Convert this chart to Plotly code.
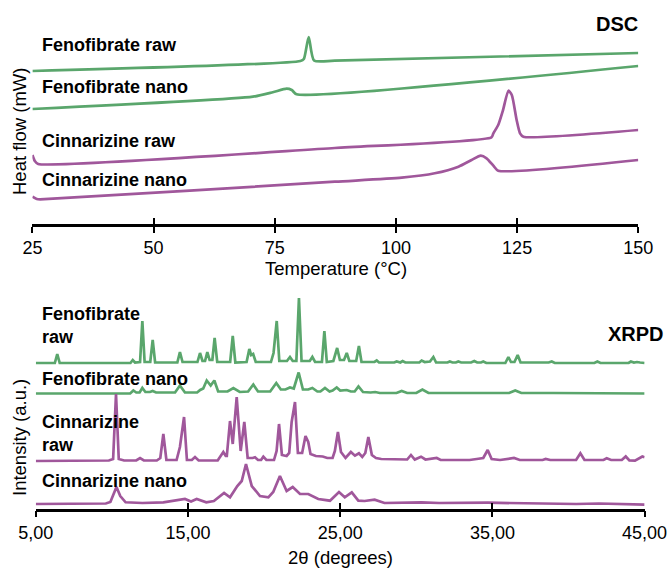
import plotly.graph_objects as go

GREEN = "#5aa66c"
PURPLE = "#a0579b"
FONT = "Liberation Sans, Arial, sans-serif"

# ---------------- DSC data (temperature °C, heat flow a.u., stacked) ----------------
dsc_feno_raw_T = [25.0, 80.3, 81.0, 82.0, 83.1, 87.4, 150.0]
dsc_feno_raw_hf = [153.0, 163.0, 165.0, 187.0, 163.5, 163.3, 171.0]

dsc_feno_nano_T = [25.0, 70.5, 74.6, 77.45, 78.5, 79.5, 150.0]
dsc_feno_nano_hf = [115.0, 127.3, 131.7, 135.3, 134.0, 129.7, 158.0]

dsc_cinn_raw_T = [25.0, 25.5, 26.2, 87.4, 119.7, 120.1, 121.1, 122.1, 123.2, 123.9, 124.9, 125.6, 126.3, 150.0]
dsc_cinn_raw_hf = [69.0, 63.0, 60.0, 76.0, 86.7, 90.7, 99.0, 114.0, 133.3, 129.0, 104.0, 90.7, 87.3, 94.0]

dsc_cinn_nano_T = [25.0, 25.9, 26.6, 87.4, 101.2, 108.0, 112.9, 115.6, 117.5, 118.7, 120.1, 121.1, 150.0]
dsc_cinn_nano_hf = [27.3, 25.0, 24.7, 42.3, 46.3, 50.7, 57.3, 64.0, 68.3, 65.7, 58.3, 53.3, 64.0]

dsc_ticks = [25, 50, 75, 100, 125, 150]

# ---------------- XRPD data (2θ degrees, intensity a.u.) ----------------
xrpd_feno_raw_2t = [5.0, 6.25, 6.41, 6.57, 11.22, 11.37, 11.52, 11.85, 12.0, 12.15, 12.52, 12.68, 12.84,
                    14.3, 14.47, 14.64, 15.62, 15.79, 15.95, 16.12, 16.27, 16.42, 16.6, 16.75, 16.92,
                    17.77, 17.94, 18.11, 18.85, 19.03, 19.15, 19.28, 19.45, 20.45, 20.62, 20.83, 21.0,
                    21.5, 21.7, 21.88, 22.12, 22.29, 22.46, 23.0, 23.17, 23.35, 23.8, 23.96, 24.12,
                    24.55, 24.8, 24.98, 25.25, 25.43, 25.6, 26.05, 26.23, 26.4, 27.25, 27.4, 27.55,
                    28.55, 28.71, 28.88, 28.95, 29.1, 29.28, 30.2, 30.35, 30.55, 30.9, 31.12, 31.3,
                    32.05, 32.2, 32.38, 32.6, 32.76, 32.95, 33.6, 33.81, 34.0, 34.25, 34.4, 34.6,
                    35.85, 36.05, 36.22, 36.45, 36.66, 36.85, 38.7, 38.9, 39.1, 41.7, 41.9, 42.1,
                    43.95, 44.1, 44.3, 44.5, 44.7, 45.0]
xrpd_feno_raw_int = [0, 0, 9, 0, 0, 3, 0.5, 1, 42, 1, 1, 23, 0.5,
                     0.5, 11, 1, 1, 10, 2, 2, 11, 3, 3, 25, 1,
                     1, 27, 0.5, 1, 14, 8, 9, 1, 1, 10, 42, 2,
                     2, 6, 2, 2, 65, 2, 2, 6, 1, 1, 32, 1,
                     2, 15, 3, 3, 10, 2, 2, 17, 1, 1, 2.5, 0.5,
                     0.5, 1.5, 0.5, 0.5, 2, 0.5, 0.5, 2.5, 1, 1.5, 6, 0.5,
                     0.5, 1.5, 0.5, 0.5, 1.5, 0.5, 0.5, 2, 0.5, 0.5, 1.5, 0,
                     0, 6, 1, 1, 8, 0.5, 0.5, 1.5, 0, 0, 1.5, 0,
                     0, 1.5, 0.5, 1, 0.5, 0]

xrpd_feno_nano_2t = [5.0, 11.2, 11.41, 11.6, 11.82, 12.0, 12.2, 12.5, 12.68, 12.9, 14.15, 14.47, 14.8,
                     15.6, 15.8, 16.0, 16.23, 16.49, 16.73, 16.98, 17.6, 17.98, 18.4, 18.95, 19.29,
                     19.6, 20.4, 20.8, 21.1, 21.4, 21.7, 21.95, 22.27, 22.55, 22.9, 23.17, 23.5,
                     23.7, 24.0, 24.3, 24.5, 24.77, 25.0, 25.2, 25.43, 25.7, 25.95, 26.2, 26.5,
                     27.0, 27.3, 27.6, 28.7, 29.04, 29.4, 30.0, 30.4, 30.8, 32.5, 33.8, 34.5,
                     36.1, 36.5, 36.9, 39.0, 41.9, 45.0]
xrpd_feno_nano_int = [0, 0, 3, 1, 1, 5.5, 1.5, 1.5, 2.5, 1, 1, 8, 1,
                      1, 3.5, 5, 13, 8, 13, 2, 2, 5.5, 1.5, 2, 9,
                      2, 2, 10.5, 4, 4, 6, 5, 21, 4, 4, 5.5, 2,
                      2, 5.5, 2, 3, 6, 3, 3, 3.5, 2, 2, 7, 1.5,
                      1, 1.5, 0.5, 0.5, 2.5, 0.5, 0.5, 4, 0.5, 0.5, 1, 0.5,
                      0.5, 3, 0.5, 0.5, 0.5, 0]

xrpd_cinn_raw_2t = [5.0, 9.8, 10.08, 10.27, 10.45, 10.8, 11.6, 11.85, 12.1, 12.95, 13.18, 13.38, 13.58,
                    14.25, 14.47, 14.74, 14.93, 15.25, 15.46, 15.7, 16.95, 17.32, 17.48, 17.55, 17.76,
                    17.94, 18.2, 18.46, 18.7, 18.92, 19.25, 19.4, 19.6, 19.8, 19.95, 20.15, 20.65,
                    20.82, 20.98, 21.17, 21.48, 21.65, 21.81, 22.03, 22.22, 22.5, 22.72, 22.9, 23.05,
                    23.4, 23.85, 24.15, 24.5, 24.65, 24.85, 25.05, 25.35, 25.7, 25.97, 26.23, 26.45,
                    26.65, 26.85, 27.08, 27.35, 27.7, 29.4, 29.65, 29.9, 30.31, 30.6, 31.34, 31.6,
                    33.5, 33.97, 34.4, 34.69, 34.95, 35.5, 36.42, 36.8, 38.3, 38.5, 38.8, 40.5,
                    40.78, 41.05, 42.3, 42.51, 42.8, 43.5, 43.76, 44.0, 44.37, 44.85, 45.0]
xrpd_cinn_raw_int = [0, 0.5, 2, 67, 2, 0.5, 0.5, 3, 0.5, 0.5, 3, 27, 1,
                     1, 14, 44, 1, 1, 4, 0.5, 0.5, 9, 5, 5, 40,
                     17, 64, 10, 39, 3, 3, 3.7, 1, 1, 4.3, 1, 1,
                     10, 37, 6, 5, 8, 39, 59, 8, 8, 25, 19, 7,
                     5, 4.5, 3, 3, 10, 29, 9, 3, 9, 5.3, 7.7, 4,
                     8, 24, 6, 3, 2, 1.5, 6, 1.5, 4.3, 1.5, 3, 1,
                     1, 2, 3, 11, 2, 1, 3, 1, 1, 2, 1, 1,
                     7.7, 1, 1, 2.7, 1, 1, 4.5, 0.5, 0.3, 4.5, 3.7]

xrpd_cinn_nano_2t = [5.0, 9.6, 9.9, 10.3, 10.55, 10.9, 12.0, 13.38, 14.8, 15.2, 15.57, 16.2, 16.7,
                     17.37, 17.76, 18.24, 18.53, 18.81, 19.19, 19.73, 20.28, 20.6, 21.04, 21.48, 21.88,
                     22.36, 22.9, 23.56, 24.33, 24.92, 25.3, 25.76, 26.19, 26.6, 27.26, 27.91, 30.35,
                     31.5, 34.7, 37.0, 40.5, 42.0, 45.0]
xrpd_cinn_nano_int = [0, 0.5, 2, 17, 8, 1.7, 1, 1.7, 5, 2.5, 5, 1.7, 3,
                      11, 6.7, 18, 23, 40, 18, 8, 6.7, 12, 28, 13, 17,
                      10, 10, 5, 3.3, 12, 6.7, 11.7, 3.3, 3, 4.3, 1, 1.7,
                      1, 1.3, 0.8, 0, 0.5, -0.7]

# stacking offsets of the XRPD patterns
xrpd_offsets = {"feno_raw": 145.5, "feno_nano": 115.0, "cinn_raw": 47.5, "cinn_nano": 4.5}

xrpd_ticks = [5, 15, 25, 35, 45]
xrpd_ticktext = ["5,00", "15,00", "25,00", "35,00", "45,00"]

fig = go.Figure()

dsc_series = [
    (dsc_feno_raw_T, dsc_feno_raw_hf, GREEN),
    (dsc_feno_nano_T, dsc_feno_nano_hf, GREEN),
    (dsc_cinn_raw_T, dsc_cinn_raw_hf, PURPLE),
    (dsc_cinn_nano_T, dsc_cinn_nano_hf, PURPLE),
]
for T, hf, col in dsc_series:
    fig.add_trace(go.Scatter(x=T, y=hf, mode="lines", xaxis="x", yaxis="y",
                             line=dict(color=col, width=2.7, shape="spline", smoothing=0.6),
                             showlegend=False, hoverinfo="skip"))

xrpd_series = [
    (xrpd_feno_raw_2t, xrpd_feno_raw_int, xrpd_offsets["feno_raw"], GREEN),
    (xrpd_feno_nano_2t, xrpd_feno_nano_int, xrpd_offsets["feno_nano"], GREEN),
    (xrpd_cinn_raw_2t, xrpd_cinn_raw_int, xrpd_offsets["cinn_raw"], PURPLE),
    (xrpd_cinn_nano_2t, xrpd_cinn_nano_int, xrpd_offsets["cinn_nano"], PURPLE),
]
for tt, inten, off, col in xrpd_series:
    fig.add_trace(go.Scatter(x=tt, y=[off + v for v in inten], mode="lines", xaxis="x2", yaxis="y2",
                             line=dict(color=col, width=2.7),
                             showlegend=False, hoverinfo="skip"))

# helper traces for the overlaid inward tick axes
fig.add_trace(go.Scatter(x=[None], y=[None], xaxis="x3", yaxis="y", showlegend=False, hoverinfo="skip"))
fig.add_trace(go.Scatter(x=[None], y=[None], xaxis="x4", yaxis="y2", showlegend=False, hoverinfo="skip"))

W, H = 670, 568
def fx(px):
    return px / W
def fy(py):
    return 1 - py / H

axis_common = dict(showline=True, linecolor="black", linewidth=2.5, ticks="outside", ticklen=6,
                   tickwidth=2, tickcolor="black", showgrid=False, zeroline=False, automargin=False,
                   tickfont=dict(family=FONT, size=18, color="black"))
inner_common = dict(showline=False, ticks="inside", ticklen=6, tickwidth=2, tickcolor="black",
                    showgrid=False, zeroline=False, showticklabels=False, automargin=False)

ann = []
def label(text, x, y, size=18, bold=True, xanchor="left", angle=0):
    ann.append(dict(text=f"<b>{text}</b>" if bold else text, x=x, y=y, xref="paper", yref="paper",
                    xanchor=xanchor, yanchor="middle", showarrow=False, textangle=angle,
                    font=dict(family=FONT, size=size, color="black"), align="left"))

label("Fenofibrate raw", fx(40), fy(45))
label("Fenofibrate nano", fx(40), fy(87))
label("Cinnarizine raw", fx(40), fy(141))
label("Cinnarizine nano", fx(40), fy(180))
label("DSC", fx(640), fy(24), size=20, xanchor="right")
label("Heat flow (mW)", fx(19), fy(132), size=18.5, bold=False, xanchor="center", angle=-90)
label("Temperature (°C)", fx(336), fy(268), size=18.5, bold=False, xanchor="center")

label("Fenofibrate<br>raw", fx(40), fy(325))
label("Fenofibrate nano", fx(40), fy(379))
label("Cinnarizine<br>raw", fx(40), fy(433))
label("Cinnarizine nano", fx(40), fy(481))
label("XRPD", fx(666), fy(334), size=20, xanchor="right")
label("Intensity (a.u.)", fx(19), fy(438), size=18.5, bold=False, xanchor="center", angle=-90)
label("2θ (degrees)", fx(340), fy(557), size=18.5, bold=False, xanchor="center")

fig.update_layout(
    width=W, height=H, autosize=False,
    margin=dict(l=0, r=0, t=0, b=0, pad=0, autoexpand=False),
    paper_bgcolor="white", plot_bgcolor="white",
    showlegend=False,
    xaxis=dict(domain=[fx(32.4), fx(638.3)], range=[25, 150], anchor="y", tickvals=dsc_ticks, **axis_common),
    yaxis=dict(domain=[fy(224), fy(10)], range=[0, 214], visible=False),
    xaxis3=dict(overlaying="x", anchor="y", range=[25, 150], tickvals=dsc_ticks, **inner_common),
    xaxis2=dict(domain=[fx(35.8), fx(644.6)], range=[5, 45], anchor="y2", tickvals=xrpd_ticks,
                ticktext=xrpd_ticktext, **axis_common),
    yaxis2=dict(domain=[fy(508.5), fy(285)], range=[0, 223.5], visible=False),
    xaxis4=dict(overlaying="x2", anchor="y2", range=[5, 45], tickvals=xrpd_ticks, **inner_common),
    annotations=ann,
)

fig.write_html("out.html")
